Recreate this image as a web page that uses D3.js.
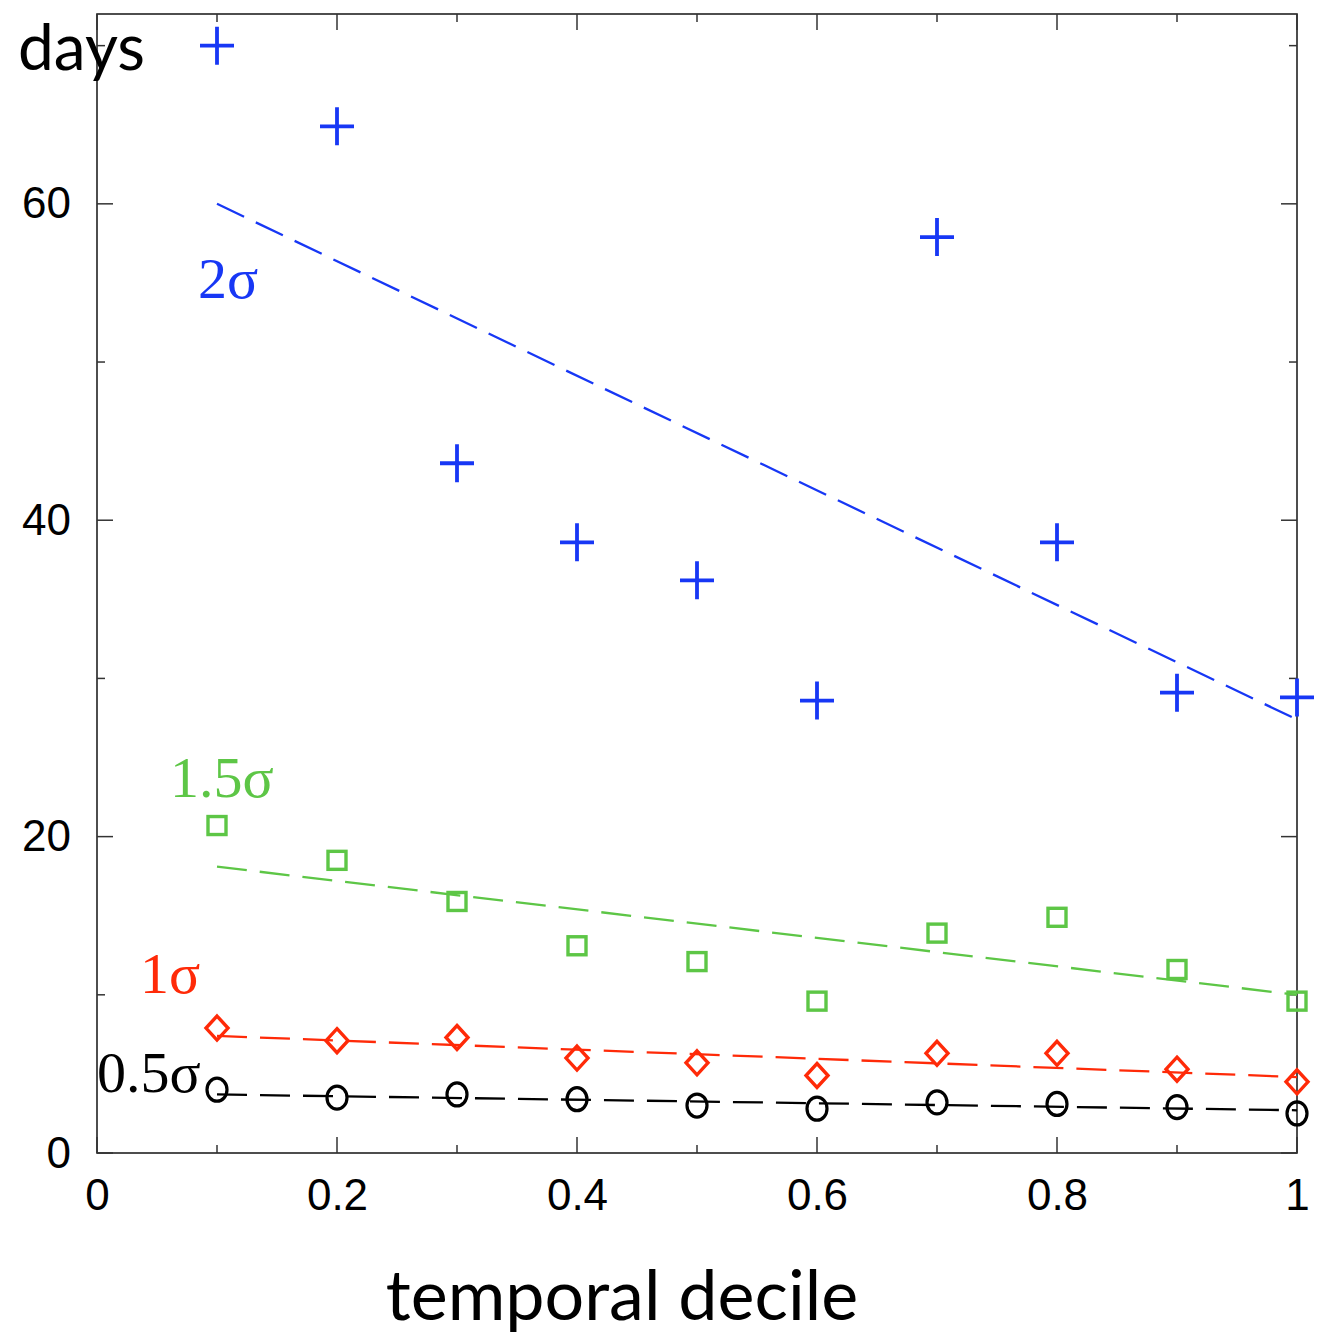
<!DOCTYPE html>
<html><head><meta charset="utf-8">
<script src="https://cdn.jsdelivr.net/npm/d3@7"></script>
<style>body{margin:0;background:#fff}svg{display:block}</style>
</head><body>
<svg id="c" width="1327" height="1343"></svg>
<script>
const deciles = [0.1,0.2,0.3,0.4,0.5,0.6,0.7,0.8,0.9,1.0];
const s2 = [70.0,64.9,43.6,38.6,36.2,28.6,57.9,38.6,29.1,28.8];
const s15 = [20.7,18.5,15.9,13.1,12.1,9.6,13.9,14.9,11.6,9.6];
const s1 = [7.9,7.1,7.3,6.0,5.7,4.9,6.3,6.3,5.3,4.5];
const s05 = [4.0,3.5,3.7,3.4,3.0,2.8,3.2,3.1,2.9,2.5];
const fit2 = [[0.1,60.0],[1.0,27.4]];
const fit15 = [[0.1,18.1],[1.0,10.0]];
const fit1 = [[0.1,7.4],[1.0,4.8]];
const fit05 = [[0.1,3.7],[1.0,2.7]];
const xTicks = [0,0.2,0.4,0.6,0.8,1];
const yTicks = [0,20,40,60];

const svg = d3.select('#c');
const L=97,R=1297,T=14,B=1153;
const x = d3.scaleLinear().domain([0,1]).range([L,R]);
const y = d3.scaleLinear().domain([0,72]).range([B,T]);

const colors = {s2:'#1737f5', s15:'#5dc646', s1:'#ff2a08', s05:'#000000'};

// frame
svg.append('rect').attr('x',L).attr('y',T).attr('width',R-L).attr('height',B-T)
  .attr('fill','none').attr('stroke','#222').attr('stroke-width',1.6);

// ticks
const tk = svg.append('g').attr('stroke','#333').attr('stroke-width',1.5);
d3.range(0,1.0001,0.1).forEach((v,i)=>{
  const len = (i%2===0)?16:8;
  tk.append('line').attr('x1',x(v)).attr('x2',x(v)).attr('y1',B).attr('y2',B-len);
  tk.append('line').attr('x1',x(v)).attr('x2',x(v)).attr('y1',T).attr('y2',T+len);
});
d3.range(0,72,10).forEach((v,i)=>{
  const len = (i%2===0)?16:8;
  tk.append('line').attr('y1',y(v)).attr('y2',y(v)).attr('x1',L).attr('x2',L+len);
  tk.append('line').attr('y1',y(v)).attr('y2',y(v)).attr('x1',R).attr('x2',R-len);
});

const xAxis = svg.append('g').attr('transform',`translate(0,${B})`)
  .call(d3.axisBottom(x).tickValues(xTicks).tickFormat(d=>d===0?'0':d===1?'1':d3.format('.1f')(d)).tickSize(0).tickPadding(26));
xAxis.select('.domain').remove();
xAxis.selectAll('text').attr('font-family','Liberation Sans, Arial, sans-serif').attr('font-size',44).attr('fill','#000');
const yAxis = svg.append('g').attr('transform',`translate(${L},0)`)
  .call(d3.axisLeft(y).tickValues(yTicks).tickSize(0).tickPadding(26));
yAxis.select('.domain').remove();
yAxis.selectAll('text').attr('font-family','Liberation Sans, Arial, sans-serif').attr('font-size',44).attr('fill','#000');

// fit lines
const line = d3.line().x(d=>x(d[0])).y(d=>y(d[1]));
[[fit2,colors.s2],[fit15,colors.s15],[fit1,colors.s1],[fit05,colors.s05]].forEach(([f,c])=>{
  svg.append('path').attr('d',line(f)).attr('fill','none').attr('stroke',c)
    .attr('stroke-width',2.3).attr('stroke-dasharray','30,13');
});

// markers
const g = svg.append('g');
deciles.forEach((d,i)=>{
  const px=x(d), py=y(s2[i]);
  g.append('path').attr('d',`M${px-17},${py}H${px+17}M${px},${py-19}V${py+19}`)
    .attr('stroke',colors.s2).attr('stroke-width',3.8).attr('fill','none');
  g.append('rect').attr('x',x(d)-9).attr('y',y(s15[i])-9).attr('width',18).attr('height',18)
    .attr('fill','none').attr('stroke',colors.s15).attr('stroke-width',3.4);
  const dx=x(d), dy=y(s1[i]);
  g.append('path').attr('d',`M${dx},${dy-12}L${dx+11},${dy}L${dx},${dy+12}L${dx-11},${dy}Z`)
    .attr('fill','none').attr('stroke',colors.s1).attr('stroke-width',3.4);
  g.append('ellipse').attr('cx',x(d)).attr('cy',y(s05[i])).attr('rx',10).attr('ry',11.5)
    .attr('fill','none').attr('stroke',colors.s05).attr('stroke-width',3.2);
});

// series labels
const serif='Liberation Serif, Times New Roman, serif';
const labs=[['2σ',198,298,colors.s2],['1.5σ',170,797,colors.s15],['1σ',140,993,colors.s1],['0.5σ',97,1092,colors.s05]];
labs.forEach(([t,lx,ly,c])=>{
  svg.append('text').attr('x',lx).attr('y',ly).attr('font-family',serif).attr('font-size',58).attr('fill',c).text(t);
});

svg.append('text').attr('x',18).attr('y',70).attr('font-family','Lato, sans-serif').attr('font-size',64).attr('fill','#000').text('days');
svg.append('text').attr('x',622).attr('y',1320).attr('text-anchor','middle').attr('font-family','Lato, sans-serif').attr('font-size',70).attr('fill','#000').text('temporal decile');
</script>
</body></html>
